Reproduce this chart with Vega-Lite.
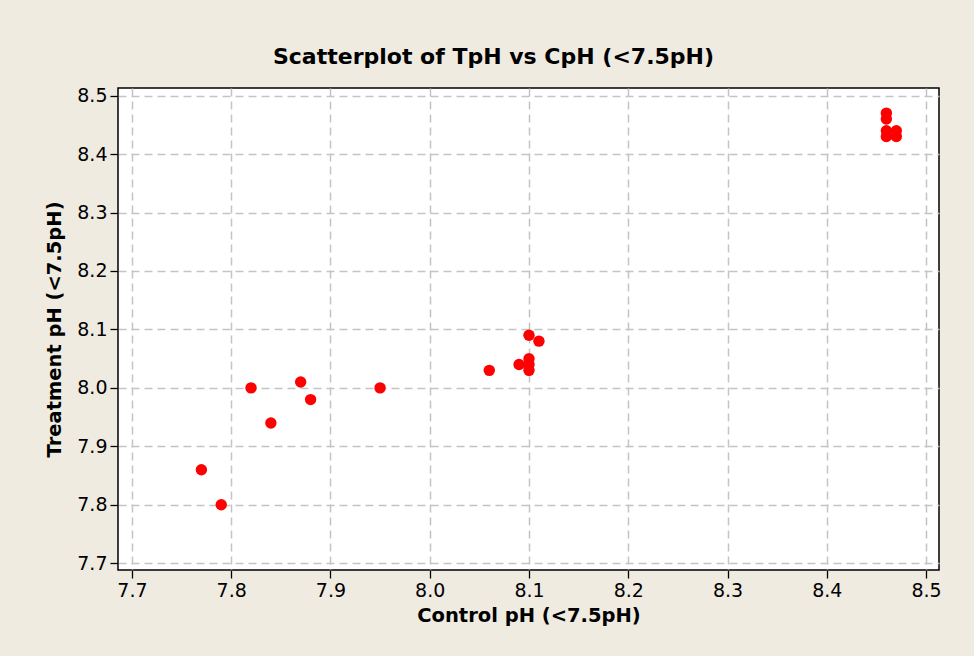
{
  "$schema": "https://vega.github.io/schema/vega-lite/v6.json",
  "width": 821,
  "height": 482,
  "autosize": {"type": "none"},
  "padding": {"left": 118, "top": 88, "right": 35, "bottom": 86},
  "background": "#efebe1",
  "title": {
    "text": "Scatterplot of TpH vs CpH (<7.5pH)",
    "font": "DejaVu Sans",
    "fontSize": 22,
    "fontWeight": "bold",
    "color": "#000000",
    "anchor": "middle",
    "dx": -35,
    "offset": 18
  },
  "config": {
    "view": {"fill": "#ffffff", "stroke": "#000000", "strokeWidth": 1.5},
    "axis": {
      "labelFont": "DejaVu Sans",
      "labelFontSize": 19,
      "labelColor": "#000000",
      "titleFont": "DejaVu Sans",
      "titleFontSize": 19.5,
      "titleFontWeight": "bold",
      "titleColor": "#000000",
      "domain": false,
      "tickColor": "#000000",
      "tickSize": 8,
      "tickWidth": 1.3,
      "gridColor": "#c4c4c4",
      "gridDash": [8, 5],
      "gridWidth": 1.5,
      "gridOpacity": 1,
      "labelPadding": 3
    }
  },
  "data": {
    "values": [
      {"cph": 7.77, "tph": 7.86},
      {"cph": 7.79, "tph": 7.80},
      {"cph": 7.82, "tph": 8.00},
      {"cph": 7.84, "tph": 7.94},
      {"cph": 7.87, "tph": 8.01},
      {"cph": 7.88, "tph": 7.98},
      {"cph": 7.95, "tph": 8.00},
      {"cph": 8.06, "tph": 8.03},
      {"cph": 8.09, "tph": 8.04},
      {"cph": 8.10, "tph": 8.09},
      {"cph": 8.11, "tph": 8.08},
      {"cph": 8.10, "tph": 8.05},
      {"cph": 8.10, "tph": 8.04},
      {"cph": 8.10, "tph": 8.03},
      {"cph": 8.46, "tph": 8.47},
      {"cph": 8.46, "tph": 8.46},
      {"cph": 8.46, "tph": 8.44},
      {"cph": 8.46, "tph": 8.43},
      {"cph": 8.47, "tph": 8.44},
      {"cph": 8.47, "tph": 8.43}
    ]
  },
  "mark": {"type": "circle", "color": "#ff0000", "opacity": 1, "size": 130},
  "encoding": {
    "x": {
      "field": "cph",
      "type": "quantitative",
      "scale": {"domain": [7.686, 8.513], "nice": false, "zero": false},
      "axis": {
        "title": "Control pH (<7.5pH)",
        "values": [7.7, 7.8, 7.9, 8.0, 8.1, 8.2, 8.3, 8.4, 8.5],
        "format": ".1f",
        "titlePadding": 6
      }
    },
    "y": {
      "field": "tph",
      "type": "quantitative",
      "scale": {"domain": [7.6885, 8.513], "nice": false, "zero": false},
      "axis": {
        "title": "Treatment pH (<7.5pH)",
        "values": [7.7, 7.8, 7.9, 8.0, 8.1, 8.2, 8.3, 8.4, 8.5],
        "format": ".1f",
        "titlePadding": 12
      }
    }
  }
}
